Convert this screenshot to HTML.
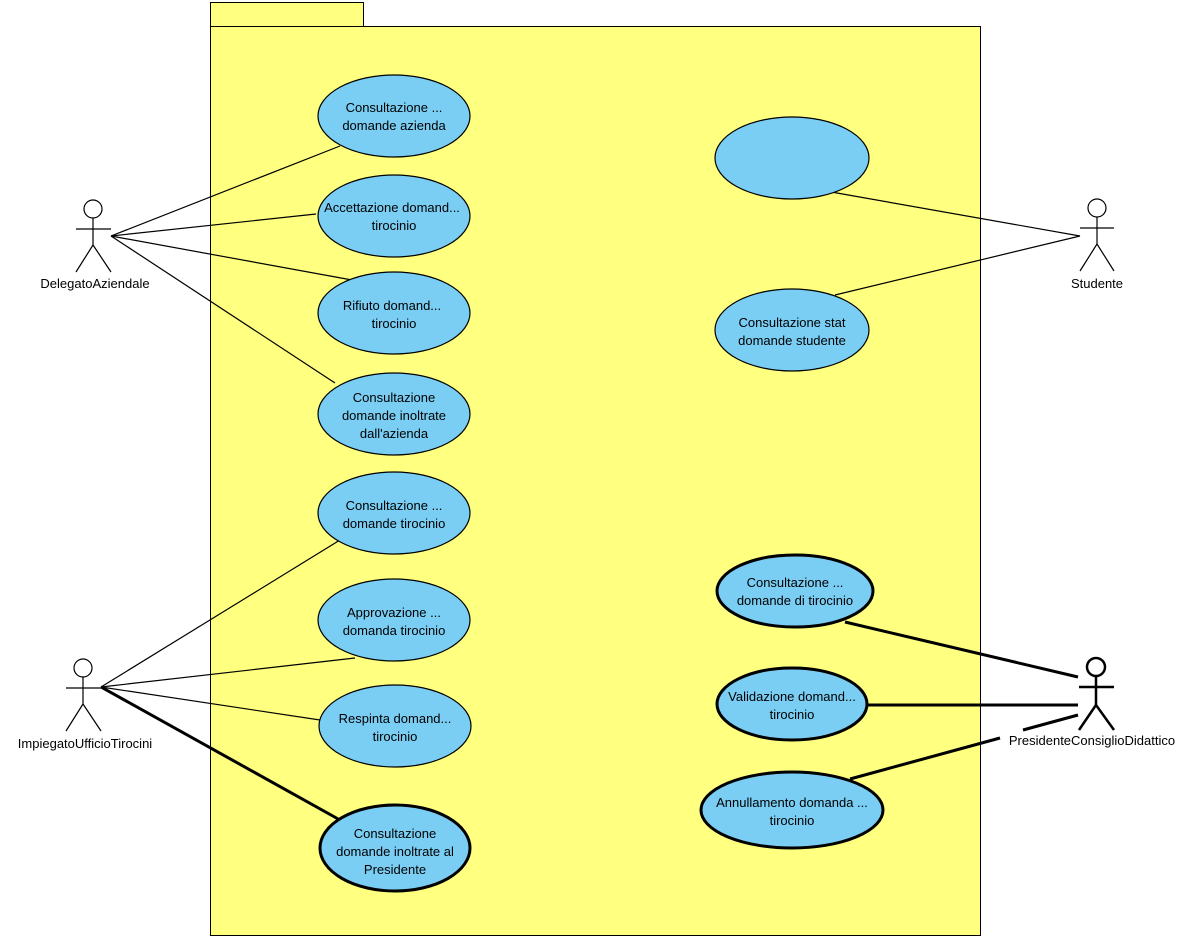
<!DOCTYPE html>
<html><head><meta charset="utf-8"><style>body{margin:0;background:#fff}svg{display:block}text{font-family:"Liberation Sans",sans-serif;font-size:13px;fill:#000}</style></head>
<body>
<svg width="1199" height="941" viewBox="0 0 1199 941" xmlns="http://www.w3.org/2000/svg">
<rect x="210.5" y="2.5" width="153" height="24" fill="#ffff80" stroke="#000"/>
<rect x="210.5" y="26.5" width="770" height="909" fill="#ffff80" stroke="#000"/>
<g stroke="#000" stroke-width="1.2">
<line x1="111" y1="236" x2="340" y2="146"/>
<line x1="111" y1="236" x2="316" y2="214"/>
<line x1="111" y1="236" x2="352" y2="280"/>
<line x1="111" y1="236" x2="335" y2="383"/>
<line x1="101" y1="687" x2="340" y2="540"/>
<line x1="101" y1="687" x2="355" y2="658"/>
<line x1="101" y1="687" x2="320" y2="720"/>
<line x1="1080" y1="236" x2="820" y2="190"/>
<line x1="1080" y1="236" x2="835" y2="295"/>
</g>
<g stroke="#000" stroke-width="3">
<line x1="101" y1="687" x2="340" y2="820"/>
<line x1="1078" y1="677" x2="845" y2="622"/>
<line x1="1078" y1="705" x2="867" y2="705"/>
<line x1="1078" y1="715" x2="1023" y2="730"/>
<line x1="1000" y1="738" x2="850" y2="779"/>
</g>
<g fill="#7acef4" stroke="#000" stroke-width="1.2">
<ellipse cx="394" cy="116" rx="76" ry="41"/>
<ellipse cx="394" cy="216" rx="76" ry="41"/>
<ellipse cx="394" cy="313" rx="76" ry="41"/>
<ellipse cx="394" cy="414" rx="76" ry="41"/>
<ellipse cx="394" cy="513" rx="76" ry="41"/>
<ellipse cx="394" cy="620" rx="76" ry="41"/>
<ellipse cx="395" cy="726" rx="76" ry="41"/>
<ellipse cx="792" cy="158" rx="77" ry="41"/>
<ellipse cx="792" cy="330" rx="77" ry="41"/>
</g>
<g fill="#7acef4" stroke="#000" stroke-width="3">
<ellipse cx="395" cy="848" rx="75" ry="43"/>
<ellipse cx="795" cy="591" rx="78" ry="36"/>
<ellipse cx="792" cy="704" rx="75" ry="36"/>
<ellipse cx="792" cy="810" rx="91" ry="38"/>
</g>
<g text-anchor="middle">
<text x="394" y="112">Consultazione ...</text><text x="394" y="130">domande azienda</text>
<text x="392" y="212">Accettazione domand...</text><text x="394" y="230">tirocinio</text>
<text x="392" y="310">Rifiuto domand...</text><text x="394" y="328">tirocinio</text>
<text x="394" y="402">Consultazione</text><text x="394" y="420">domande inoltrate</text><text x="394" y="438">dall'azienda</text>
<text x="394" y="510">Consultazione ...</text><text x="394" y="528">domande tirocinio</text>
<text x="394" y="617">Approvazione ...</text><text x="394" y="635">domanda tirocinio</text>
<text x="395" y="723">Respinta domand...</text><text x="395" y="741">tirocinio</text>
<text x="395" y="838">Consultazione</text><text x="395" y="856">domande inoltrate al</text><text x="395" y="874">Presidente</text>
<text x="792" y="327">Consultazione stat</text><text x="792" y="345">domande studente</text>
<text x="795" y="587">Consultazione ...</text><text x="795" y="605">domande di tirocinio</text>
<text x="792" y="701">Validazione domand...</text><text x="792" y="719">tirocinio</text>
<text x="792" y="807">Annullamento domanda ...</text><text x="792" y="825">tirocinio</text>
<text x="95" y="288">DelegatoAziendale</text>
<text x="1097" y="288">Studente</text>
<text x="85" y="748">ImpiegatoUfficioTirocini</text>
<text x="1092" y="745">PresidenteConsiglioDidattico</text>
</g>
<g fill="none" stroke="#000" stroke-width="1.2">
<circle cx="93" cy="209" r="9"/><path d="M93 218V245M76 229H111M93 245L76 272M93 245L111 272"/>
<circle cx="1097" cy="208" r="9"/><path d="M1097 217V244M1080 228H1114M1097 244L1080 271M1097 244L1114 271"/>
<circle cx="83" cy="668" r="9"/><path d="M83 677V704M66 688H101M83 704L66 731M83 704L101 731"/>
</g>
<g fill="none" stroke="#000" stroke-width="2.5">
<circle cx="1096" cy="667" r="9"/><path d="M1096 676V705M1079 687H1114M1096 705L1079 730M1096 705L1114 730"/>
</g>
</svg>
</body></html>
